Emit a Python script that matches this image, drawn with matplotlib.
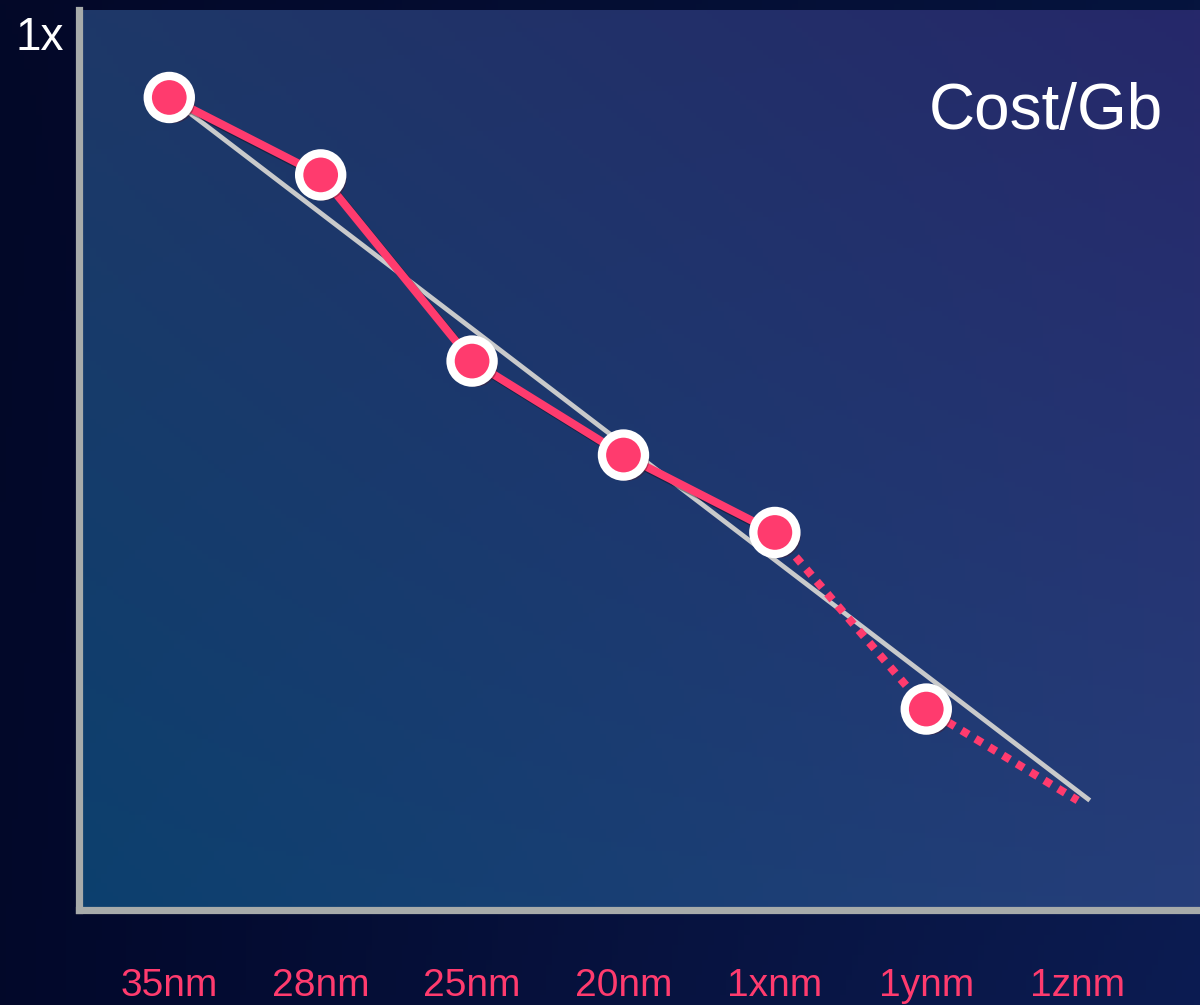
import numpy as np
import matplotlib.pyplot as plt
import matplotlib.patheffects as pe

# Process nodes and relative cost per Gb (1x = top of axis)
nodes = ['35nm', '28nm', '25nm', '20nm', '1xnm', '1ynm', '1znm']
cost_actual = [0.934, 0.845, 0.631, 0.523, 0.434]
cost_projected = [0.434, 0.231, 0.126]
trend_x = [0.0, 6.08]
trend_y = [0.934, 0.126]

PINK = '#ff3b6e'
GRAY = '#c9cacb'
SPINE = '#a7abaa'
FONT = ['Liberation Sans', 'DejaVu Sans']


def gradient(corners, n=200):
    # bilinear blend of four corner colours (tl, tr, bl, br)
    tl, tr, bl, br = [np.array(c) / 255.0 for c in corners]
    u = np.linspace(0, 1, n)[None, :, None]
    v = np.linspace(0, 1, n)[:, None, None]
    top = tl * (1 - u) + tr * u
    bot = bl * (1 - u) + br * u
    return top * (1 - v) + bot * v


def main():

    fig = plt.figure(figsize=(12, 10.05), dpi=100)

    # Page background
    bg = fig.add_axes([0, 0, 1, 1], zorder=-10)
    bg.imshow(gradient([(3, 8, 40), (6, 20, 62), (2, 8, 42), (12, 28, 82)]),
              extent=[0, 1, 0, 1], aspect='auto')
    bg.axis('off')

    ax = fig.add_axes([0.066, 0.0945, 0.934, 0.8955])
    ax.imshow(gradient([(30, 56, 104), (38, 40, 106), (12, 64, 110), (38, 62, 122)]),
              extent=[0, 1, 0, 1], transform=ax.transAxes, aspect='auto', zorder=0)

    x = np.arange(len(nodes))
    shadow = [pe.SimpleLineShadow(offset=(2, -2), alpha=0.35, shadow_color='black'), pe.Normal()]
    mshadow = [pe.SimplePatchShadow(offset=(3, -3), alpha=0.4), pe.Normal()]

    ax.plot(trend_x, trend_y, color=GRAY, lw=3.4, solid_capstyle='butt', zorder=2)
    ax.plot(x[4:], cost_projected, color=PINK, lw=5.8, linestyle=(0, (1, 1)),
            dash_capstyle='butt', zorder=3)
    ax.plot(x[:5], cost_actual, color=PINK, lw=5.8, zorder=4, path_effects=shadow)
    ax.plot(x[:5], cost_actual, 'o', ms=31, mfc=PINK, mec='white', mew=6, zorder=5,
            path_effects=mshadow)
    ax.plot(x[5], cost_projected[1], 'o', ms=31, mfc=PINK, mec='white', mew=6, zorder=5,
            path_effects=mshadow)

    ax.set_xlim(-0.595, 6.808)
    ax.set_ylim(0, 1.0345)

    for side in ['top', 'right']:
        ax.spines[side].set_visible(False)
    for side in ['left', 'bottom']:
        ax.spines[side].set_color(SPINE)
        ax.spines[side].set_linewidth(5.2)
        ax.spines[side].set_zorder(6)

    ax.set_xticks(x)
    ax.set_xticklabels(nodes, color=PINK, fontsize=28, family=FONT)
    ax.tick_params(axis='x', length=0, pad=42)
    ax.set_yticks([])

    fig.text(40 / 1200, 1 - 38 / 1005, '1x', color='white', fontsize=33,
             family=FONT, ha='center', va='center')
    fig.text(1163 / 1200, 1 - 112 / 1005, 'Cost/Gb', color='white', fontsize=46,
             family=FONT, ha='right', va='center')

    fig.savefig('out.png', dpi=100)


if __name__ == '__main__':
    main()
